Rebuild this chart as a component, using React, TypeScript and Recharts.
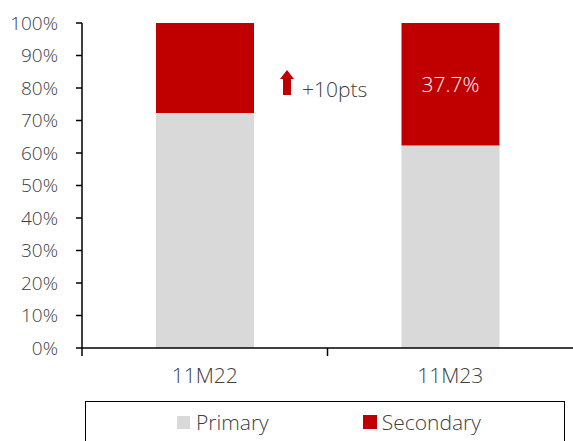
import React from 'react';
import {
  BarChart,
  Bar,
  XAxis,
  YAxis,
  Legend,
  LabelList,
  Customized,
} from 'recharts';

const categories = ['11M22', '11M23'];
const primaryValues = [72.3, 62.3];
const secondaryValues = [27.7, 37.7];
const secondaryLabels = ['', '37.7%'];
const yTicks = [0, 10, 20, 30, 40, 50, 60, 70, 80, 90, 100];
const changeNote = '+10pts';

const data = categories.map((name, i) => ({
  name,
  Primary: primaryValues[i],
  Secondary: secondaryValues[i],
  secLabel: secondaryLabels[i],
}));

const TEXT = '#404040';
const FONT = '"Open Sans", sans-serif';
const WEIGHT = 300;
const X_TICK_SIZE = 8;
const X_TICK_MARGIN = 12;

// label in the middle, tick mark on the left band edge
const CategoryTick = (props: any) => {
  const { x, y, payload } = props;
  const axisY = y - X_TICK_SIZE - X_TICK_MARGIN;
  const edge = x - (payload.offset ?? 123);
  return (
    <g>
      <line x1={edge} y1={axisY} x2={edge} y2={axisY + X_TICK_SIZE} stroke="#000" strokeWidth={1.5} />
      <text
        x={x}
        y={y}
        dy="0.71em"
        textAnchor="middle"
        fill={TEXT}
        fontSize={21}
        fontWeight={WEIGHT}
        fontFamily={FONT}
      >
        {payload.value}
      </text>
    </g>
  );
};

const LegendBox = () => (
  <div
    style={{
      boxSizing: 'border-box',
      width: 480,
      height: 40,
      border: '1.5px solid #000',
      borderBottom: 'none',
      display: 'flex',
      alignItems: 'flex-start',
      paddingTop: 9,
      fontFamily: FONT,
      fontWeight: WEIGHT,
      fontSize: 21,
      color: TEXT,
    }}
  >
    <div style={{ display: 'flex', alignItems: 'center', marginLeft: 91 }}>
      <span style={{ width: 13, height: 13, background: '#D9D9D9', marginRight: 6 }} />
      <span style={{ lineHeight: '22px' }}>Primary</span>
    </div>
    <div style={{ display: 'flex', alignItems: 'center', marginLeft: 94 }}>
      <span style={{ width: 14, height: 14, background: '#C00000', marginRight: 5 }} />
      <span style={{ lineHeight: '22px' }}>Secondary</span>
    </div>
  </div>
);

const ChangeArrow = () => (
  <g>
    <polygon points="287,70 294,79 291,79 291,95 283,95 283,79 280,79" fill="#C00000" />
    <text x={302} y={97} fill={TEXT} fontSize={21} fontWeight={WEIGHT} fontFamily={FONT}>
      {changeNote}
    </text>
  </g>
);

export default function App() {
  return (
    <div style={{ position: 'absolute', left: 0, top: 0, background: '#fff' }}>
      <BarChart
        width={573}
        height={441}
        data={data}
        margin={{ top: 23, right: 0, left: 0, bottom: 0 }}
        barSize={98}
      >
        <YAxis
          domain={[0, 100]}
          ticks={yTicks}
          interval={0}
          width={82}
          tickFormatter={(v) => `${v}%`}
          tick={{ fill: TEXT, fontSize: 19, fontWeight: WEIGHT, fontFamily: FONT }}
          axisLine={{ stroke: '#000', strokeWidth: 1.5 }}
          tickLine={{ stroke: '#000', strokeWidth: 1.5 }}
          tickSize={6}
          tickMargin={18}
        />
        <XAxis
          dataKey="name"
          height={53}
          tick={<CategoryTick />}
          tickSize={X_TICK_SIZE}
          tickMargin={X_TICK_MARGIN}
          tickLine={false}
          axisLine={{ stroke: '#000', strokeWidth: 1.5 }}
        />
        <Legend
          verticalAlign="bottom"
          content={<LegendBox />}
          wrapperStyle={{ left: 85, width: 480, height: 40 }}
        />
        <Bar dataKey="Primary" stackId="a" fill="#D9D9D9" isAnimationActive={false} />
        <Bar dataKey="Secondary" stackId="a" fill="#C00000" isAnimationActive={false}>
          <LabelList
            dataKey="secLabel"
            position="center"
            fill="#fff"
            fontSize={21}
            fontWeight={WEIGHT}
            fontFamily={FONT}
          />
        </Bar>
        <Customized component={ChangeArrow} />
      </BarChart>
    </div>
  );
}
